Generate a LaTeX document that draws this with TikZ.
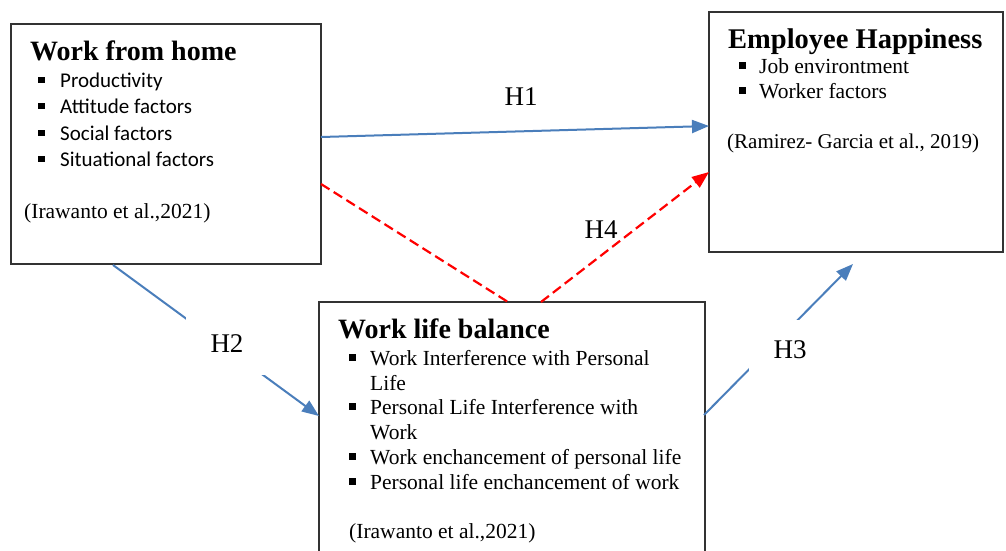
\documentclass[tikz,border=0pt]{standalone}
\usepackage{fontspec}
\setmainfont{Liberation Serif}
\newfontfamily\calfont{Carlito}
\usetikzlibrary{arrows.meta}
\definecolor{arrblue}{HTML}{4A7EBB}
\definecolor{boxgray}{HTML}{333333}
\newcommand{\bsq}{\rule[0.2em]{0.3em}{0.3em}}
\begin{document}
\begin{tikzpicture}[x=1pt,y=-1pt,
  box/.style={draw=boxgray,line width=1.5pt,inner sep=0pt},
  ttl/.style={anchor=base west,inner sep=0pt,font=\fontsize{28}{32}\selectfont\bfseries},
  itm/.style={anchor=base west,inner sep=0pt,font=\fontsize{21.5}{25}\selectfont},
  citm/.style={anchor=base west,inner sep=0pt,font=\calfont\fontsize{21}{25}\selectfont},
  hl/.style={inner sep=0pt,font=\fontsize{27}{30}\selectfont},
  hlbox/.style={fill=white,inner sep=0pt,font=\fontsize{27}{30}\selectfont},
  bluearrow/.style={draw=arrblue,line width=2pt,-{Triangle[length=17pt,width=13pt,fill=arrblue]}},
  redline/.style={draw=red,line width=2.2pt,dash pattern=on 10pt off 5pt},
  redarrow/.style={redline,-{Triangle[length=17pt,width=13pt,fill=red]}}]
\clip (0,0) rectangle (1006,550);
\fill[white] (0,0) rectangle (1006,550);

% boxes
\node[box,minimum width=310pt,minimum height=240pt] (wfh) at (166,144) {};
\node[box,minimum width=294pt,minimum height=240pt] (eh) at (856,132) {};
\node[box,minimum width=386pt,minimum height=258pt] (wlb) at (512,431) {};

% Work from home text
\node[ttl] (wfht) at (30,60) {Work from home};
\node[citm] (wfh1) at (38,87) {\makebox[22pt][l]{\bsq}Productivity};
\node[citm] (wfh2) at (38,113) {\makebox[22pt][l]{\bsq}Attitude factors};
\node[citm] (wfh3) at (38,140) {\makebox[22pt][l]{\bsq}Social factors};
\node[citm] (wfh4) at (38,166) {\makebox[22pt][l]{\bsq}Situational factors};
\node[itm] (wfhc) at (24,218) {(Irawanto et al.,2021)};

% Employee Happiness text
\node[ttl,font=\fontsize{28.5}{32}\selectfont\bfseries] (eht) at (728,48) {Employee Happiness};
\node[itm] (eh1) at (739,73) {\makebox[20pt][l]{\bsq}Job environtment};
\node[itm] (eh2) at (739,98) {\makebox[20pt][l]{\bsq}Worker factors};
\node[itm,font=\fontsize{21}{25}\selectfont] (ehc) at (727,148) {(Ramirez- Garcia et al., 2019)};

% Work life balance text
\node[ttl] (wlbt) at (338,338) {Work life balance};
\node[itm] (wlb1) at (349,365) {\makebox[21pt][l]{\bsq}Work Interference with Personal};
\node[itm] (wlb1b) at (370,390) {Life};
\node[itm] (wlb2) at (349,414) {\makebox[21pt][l]{\bsq}Personal Life Interference with};
\node[itm] (wlb2b) at (370,439) {Work};
\node[itm] (wlb3) at (349,464) {\makebox[21pt][l]{\bsq}Work enchancement of personal life};
\node[itm] (wlb4) at (349,489) {\makebox[21pt][l]{\bsq}Personal life enchancement of work};
\node[itm] (wlbc) at (349,538) {(Irawanto et al.,2021)};

% connector end points on the box borders
\coordinate (h1s) at (321,137);
\coordinate (h1e) at (709,126);
\coordinate (h2s) at (113,265);
\coordinate (h2e) at (319,416);
\coordinate (h3s) at (704,415);
\coordinate (h3e) at (853,264);
\coordinate (r1s) at (321,184);
\coordinate (r1e) at (508,302);
\coordinate (r2s) at (541,302);
\coordinate (r2e) at (709,172);

% labels H1, H4 (behind lines)
\node[hl] (h1) at (521,97) {H1};
\node[hl] (h4) at (601,230) {H4};

% connectors
\draw[bluearrow] (h1s) -- (h1e);
\draw[bluearrow] (h2s) -- (h2e);
\draw[bluearrow] (h3s) -- (h3e);
\draw[redline] (r1s) -- (r1e);
\draw[redarrow] (r2s) -- (r2e);

% labels H2, H3 (covering lines)
\node[hlbox,minimum width=82pt,minimum height=62pt] (h2) at (227,344) {H2};
\node[hlbox,minimum width=82pt,minimum height=60pt] (h3) at (790,350) {H3};
\end{tikzpicture}
\end{document}
